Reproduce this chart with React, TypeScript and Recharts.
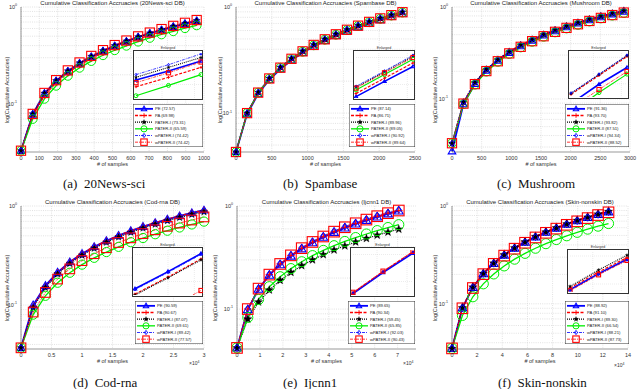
import React from 'react';
import { LineChart, Line, XAxis, YAxis, CartesianGrid, Legend } from 'recharts';

const SERIES_NAMES = ['PE', 'PA', 'PATER-I', 'PATER-II', 'wPATER-I', 'wPATER-II'];
const insetX = [0, 0.5, 1];

// (a) 20News-sci
const newsSamples = [0, 64, 128, 192, 256, 320, 384, 448, 512, 576, 640, 704, 768, 832, 896, 960];
const newsPE = [0.033, 0.078, 0.128, 0.172, 0.216, 0.262, 0.305, 0.35, 0.395, 0.44, 0.488, 0.533, 0.578, 0.625, 0.67, 0.718];
const newsPA = [0.033, 0.075, 0.122, 0.166, 0.209, 0.252, 0.295, 0.338, 0.381, 0.424, 0.468, 0.512, 0.556, 0.6, 0.645, 0.69];
const newsP1 = [0.033, 0.079, 0.129, 0.174, 0.219, 0.265, 0.309, 0.354, 0.399, 0.445, 0.492, 0.538, 0.584, 0.631, 0.677, 0.724];
const newsP2 = [0.033, 0.07, 0.113, 0.154, 0.195, 0.236, 0.277, 0.318, 0.358, 0.398, 0.439, 0.48, 0.521, 0.562, 0.604, 0.646];
const newsW1 = [0.033, 0.08, 0.131, 0.177, 0.223, 0.269, 0.314, 0.36, 0.406, 0.452, 0.499, 0.546, 0.593, 0.64, 0.688, 0.735];
const newsW2 = [0.033, 0.079, 0.13, 0.176, 0.222, 0.268, 0.313, 0.359, 0.405, 0.451, 0.498, 0.545, 0.592, 0.639, 0.687, 0.734];
const newsAcc = ['72.57', '69.98', '73.31', '65.59', '74.42', '74.42'];
const newsTicks = [0, 100, 200, 300, 400, 500, 600, 700, 800, 900, 1000];
const newsInPE = [0.4, 0.6, 0.82];
const newsInPA = [0.25, 0.46, 0.68];
const newsInP1 = [0.46, 0.68, 0.9];
const newsInP2 = [0.05, 0.28, 0.52];
const newsInW1 = [0.52, 0.74, 0.98];
const newsInW2 = [0.34, 0.56, 0.8];

// (b) Spambase
const spamSamples = [0, 155, 310, 465, 620, 775, 930, 1085, 1240, 1395, 1550, 1705, 1860, 2015, 2170, 2325];
const spamPE = [0.043, 0.098, 0.152, 0.206, 0.26, 0.315, 0.37, 0.425, 0.48, 0.535, 0.59, 0.645, 0.7, 0.755, 0.81, 0.866];
const spamPA = [0.043, 0.099, 0.153, 0.207, 0.261, 0.315, 0.369, 0.423, 0.477, 0.531, 0.586, 0.64, 0.695, 0.75, 0.805, 0.862];
const spamP1 = [0.043, 0.1, 0.157, 0.213, 0.27, 0.327, 0.384, 0.441, 0.498, 0.555, 0.612, 0.669, 0.727, 0.784, 0.841, 0.896];
const spamP2 = [0.043, 0.1, 0.156, 0.211, 0.267, 0.323, 0.379, 0.435, 0.492, 0.548, 0.605, 0.661, 0.718, 0.775, 0.831, 0.887];
const spamW1 = [0.043, 0.101, 0.158, 0.214, 0.272, 0.33, 0.388, 0.446, 0.504, 0.562, 0.62, 0.678, 0.736, 0.794, 0.852, 0.905];
const spamW2 = [0.043, 0.1, 0.156, 0.212, 0.268, 0.325, 0.382, 0.439, 0.496, 0.553, 0.61, 0.667, 0.724, 0.781, 0.838, 0.893];
const spamAcc = ['87.14', '86.71', '89.96', '89.05', '90.92', '89.64'];
const spamTicks = [0, 500, 1000, 1500, 2000, 2500];
const spamInPE = [0.03, 0.37, 0.7];
const spamInPA = [0.1, 0.44, 0.78];
const spamInP1 = [0.24, 0.58, 0.93];
const spamInP2 = [0.18, 0.52, 0.86];
const spamInW1 = [0.26, 0.6, 0.95];
const spamInW2 = [0.22, 0.56, 0.9];

// (c) Mushroom
const mushSamples = [0, 193, 386, 579, 772, 965, 1158, 1351, 1544, 1737, 1930, 2123, 2316, 2509, 2702, 2895];
const mushPE = [0.027, 0.088, 0.146, 0.204, 0.261, 0.318, 0.376, 0.433, 0.491, 0.548, 0.605, 0.663, 0.72, 0.777, 0.834, 0.892];
const mushPA = [0.033, 0.092, 0.151, 0.209, 0.268, 0.326, 0.385, 0.443, 0.502, 0.561, 0.619, 0.678, 0.736, 0.795, 0.853, 0.912];
const mushP1 = [0.033, 0.092, 0.151, 0.21, 0.268, 0.327, 0.386, 0.444, 0.503, 0.562, 0.62, 0.679, 0.738, 0.797, 0.855, 0.913];
const mushP2 = [0.033, 0.088, 0.143, 0.198, 0.253, 0.308, 0.363, 0.418, 0.474, 0.529, 0.584, 0.639, 0.695, 0.75, 0.805, 0.86];
const mushW1 = [0.033, 0.093, 0.152, 0.211, 0.27, 0.329, 0.388, 0.447, 0.506, 0.565, 0.624, 0.683, 0.742, 0.801, 0.86, 0.919];
const mushW2 = [0.033, 0.089, 0.145, 0.201, 0.257, 0.313, 0.369, 0.425, 0.481, 0.537, 0.593, 0.649, 0.705, 0.761, 0.817, 0.87];
const mushAcc = ['91.36', '93.70', '93.82', '87.51', '94.34', '88.52'];
const mushTicks = [0, 500, 1000, 1500, 2000, 2500, 3000];
const mushInPE = [-0.15, 0.29, 0.67];
const mushInPA = [0.06, 0.49, 0.92];
const mushInP1 = [0.08, 0.51, 0.94];
const mushInP2 = [-0.35, 0.1, 0.52];
const mushInW1 = [0.09, 0.52, 0.95];
const mushInW2 = [-0.25, 0.17, 0.58];

// (d) Cod-rna (x10^4)
const codSamples = [0, 0.2, 0.4, 0.6, 0.8, 1.0, 1.2, 1.4, 1.6, 1.8, 2.0, 2.2, 2.4, 2.6, 2.8, 3.0];
const codPE = [0.037, 0.1, 0.157, 0.214, 0.272, 0.33, 0.388, 0.446, 0.504, 0.561, 0.619, 0.677, 0.735, 0.793, 0.851, 0.906];
const codPA = [0.037, 0.098, 0.155, 0.213, 0.271, 0.329, 0.388, 0.446, 0.504, 0.562, 0.62, 0.678, 0.736, 0.794, 0.852, 0.907];
const codP1 = [0.037, 0.094, 0.15, 0.206, 0.262, 0.318, 0.374, 0.43, 0.486, 0.542, 0.598, 0.654, 0.71, 0.766, 0.822, 0.871];
const codP2 = [0.037, 0.08, 0.124, 0.168, 0.212, 0.256, 0.3, 0.343, 0.387, 0.431, 0.475, 0.519, 0.563, 0.607, 0.651, 0.696];
const codW1 = [0.037, 0.097, 0.153, 0.21, 0.267, 0.324, 0.382, 0.439, 0.496, 0.553, 0.61, 0.668, 0.725, 0.782, 0.839, 0.894];
const codW2 = [0.037, 0.085, 0.134, 0.183, 0.232, 0.281, 0.33, 0.379, 0.428, 0.477, 0.526, 0.575, 0.624, 0.673, 0.722, 0.776];
const codAcc = ['90.59', '90.67', '87.07', '69.61', '89.42', '77.57'];
const codTicks = [0, 0.5, 1, 1.5, 2, 2.5, 3];
const codInPE = [0.14, 0.52, 0.92];
const codInPA = [0.02, 0.4, 0.8];
const codInP1 = [0.0, 0.38, 0.78];
const codInP2 = [null, null, null];
const codInW1 = [0.12, 0.5, 0.9];
const codInW2 = [-0.7, -0.3, 0.1];

// (e) Ijcnn1 (x10^4)
const ijSamples = [0, 0.47, 0.94, 1.41, 1.88, 2.35, 2.82, 3.29, 3.76, 4.23, 4.7, 5.17, 5.64, 6.11, 6.58, 7.05];
const ijPE = [0.042, 0.099, 0.156, 0.213, 0.27, 0.327, 0.384, 0.441, 0.498, 0.555, 0.612, 0.669, 0.726, 0.783, 0.84, 0.897];
const ijPA = [0.042, 0.1, 0.158, 0.216, 0.274, 0.331, 0.389, 0.446, 0.504, 0.562, 0.619, 0.677, 0.734, 0.792, 0.85, 0.903];
const ijP1 = [0.042, 0.08, 0.117, 0.153, 0.19, 0.227, 0.264, 0.3, 0.337, 0.374, 0.41, 0.447, 0.484, 0.521, 0.558, 0.595];
const ijP2 = [0.042, 0.083, 0.124, 0.165, 0.206, 0.247, 0.288, 0.33, 0.371, 0.412, 0.453, 0.494, 0.535, 0.577, 0.618, 0.659];
const ijW1 = [0.042, 0.101, 0.16, 0.219, 0.278, 0.337, 0.396, 0.455, 0.514, 0.573, 0.632, 0.691, 0.75, 0.809, 0.865, 0.92];
const ijW2 = [0.042, 0.1, 0.158, 0.216, 0.274, 0.332, 0.39, 0.448, 0.506, 0.564, 0.622, 0.68, 0.738, 0.796, 0.852, 0.904];
const ijAcc = ['89.65', '90.34', '59.45', '65.85', '92.03', '90.43'];
const ijTicks = [0, 1, 2, 3, 4, 5, 6, 7];
const ijInPE = [0.03, 0.5, 0.93];
const ijInPA = [0.05, 0.52, 0.96];
const ijInP1 = [null, null, null];
const ijInP2 = [null, null, null];
const ijInW1 = [0.04, 0.51, 0.95];
const ijInW2 = [0.06, 0.53, 0.97];

// (f) Skin-nonskin (x10^4)
const skinSamples = [0, 0.83, 1.66, 2.49, 3.32, 4.15, 4.98, 5.81, 6.64, 7.47, 8.3, 9.13, 9.96, 10.79, 11.62, 12.45];
const skinPE = [0.035, 0.091, 0.147, 0.203, 0.259, 0.315, 0.371, 0.427, 0.483, 0.539, 0.595, 0.651, 0.707, 0.763, 0.819, 0.872];
const skinPA = [0.035, 0.092, 0.149, 0.206, 0.263, 0.32, 0.377, 0.434, 0.491, 0.548, 0.605, 0.662, 0.719, 0.776, 0.833, 0.889];
const skinP1 = [0.035, 0.091, 0.148, 0.204, 0.26, 0.317, 0.373, 0.429, 0.486, 0.542, 0.598, 0.655, 0.711, 0.767, 0.824, 0.878];
const skinP2 = [0.035, 0.076, 0.118, 0.16, 0.202, 0.244, 0.286, 0.328, 0.37, 0.412, 0.454, 0.496, 0.538, 0.58, 0.622, 0.662];
const skinW1 = [0.035, 0.09, 0.146, 0.202, 0.257, 0.313, 0.368, 0.424, 0.479, 0.535, 0.59, 0.646, 0.701, 0.757, 0.812, 0.866];
const skinW2 = [0.035, 0.09, 0.145, 0.201, 0.256, 0.311, 0.366, 0.421, 0.477, 0.532, 0.587, 0.642, 0.697, 0.752, 0.808, 0.862];
const skinAcc = ['88.92', '91.10', '89.30', '66.54', '88.21', '87.73'];
const skinTicks = [0, 2, 4, 6, 8, 10, 12, 14];
const skinInPE = [0.06, 0.46, 0.82];
const skinInPA = [0.1, 0.5, 0.86];
const skinInP1 = [0.14, 0.55, 0.92];
const skinInP2 = [null, null, null];
const skinInW1 = [0.04, 0.44, 0.8];
const skinInW2 = [0.03, 0.43, 0.79];

const KEYS = ['pe', 'pa', 'p1', 'p2', 'w1', 'w2'] as const;
type K = typeof KEYS[number];

const STY: Record<K, { color: string; w: number; dash?: string; mk: string; size: number }> = {
  pe: { color: '#0000ff', w: 1.8, mk: 'tri', size: 3.8 },
  pa: { color: '#ff0000', w: 1.3, dash: '3 1.5', mk: 'plus', size: 3.2 },
  p1: { color: '#000000', w: 1.2, dash: '1 1', mk: 'star', size: 3.8 },
  p2: { color: '#00ee00', w: 1.3, mk: 'circ', size: 4.4 },
  w1: { color: '#0000ff', w: 0.8, dash: '3 1 1 1', mk: 'dia', size: 3 },
  w2: { color: '#ff0000', w: 0.8, dash: '3 1 1 1', mk: 'sq', size: 4.6 },
};

function mark(kind: string, cx: number, cy: number, s: number, c: string) {
  switch (kind) {
    case 'tri':
      return <polygon points={`${cx},${cy - s} ${cx - s},${cy + s * 0.7} ${cx + s},${cy + s * 0.7}`} fill="none" stroke={c} strokeWidth={1.1} />;
    case 'plus':
      return <path d={`M${cx - s},${cy}H${cx + s}M${cx},${cy - s}V${cy + s}`} stroke={c} strokeWidth={1} fill="none" />;
    case 'star': {
      const pts: string[] = [];
      for (let i = 0; i < 10; i++) {
        const r = i % 2 === 0 ? s : s * 0.42;
        const a = -Math.PI / 2 + (i * Math.PI) / 5;
        pts.push(`${cx + r * Math.cos(a)},${cy + r * Math.sin(a)}`);
      }
      return <polygon points={pts.join(' ')} fill={c} stroke={c} strokeWidth={0.3} />;
    }
    case 'circ':
      return <circle cx={cx} cy={cy} r={s} fill="none" stroke={c} strokeWidth={1} />;
    case 'dia':
      return <polygon points={`${cx},${cy - s} ${cx + s * 0.75},${cy} ${cx},${cy + s} ${cx - s * 0.75},${cy}`} fill="none" stroke={c} strokeWidth={0.9} />;
    case 'sq':
    default:
      return <rect x={cx - s} y={cy - s} width={2 * s} height={2 * s} fill="none" stroke={c} strokeWidth={1.1} />;
  }
}

const dotFn = (k: K, scale: number) => (p: any) => {
  const { cx, cy, index, value } = p;
  const key = `${k}-${index}`;
  if (value == null || cx == null || cy == null || !isFinite(cx) || !isFinite(cy)) return <g key={key} />;
  return <g key={key}>{mark(STY[k].mk, cx, cy, STY[k].size * scale, STY[k].color)}</g>;
};

function rows(x: number[], s: (number | null)[][]) {
  return x.map((xv, i) => {
    const r: any = { x: xv };
    KEYS.forEach((k, j) => {
      r[k] = s[j][i];
    });
    return r;
  });
}

const YTick = (p: any) => {
  const v = p.payload.value;
  const e = Math.round(Math.log10(v));
  return (
    <text x={p.x} y={p.y} dy={2} textAnchor="end" fontSize={5.5} fill="#333">
      10<tspan dy={-2.6} fontSize={3.6}>{e}</tspan>
    </text>
  );
};

function LegendBox({ w, h, acc }: { w: number; h: number; acc: string[] }) {
  const rowH = (h - 3) / 6;
  return (
    <svg width={w} height={h} style={{ display: 'block' }}>
      <rect x={0.25} y={0.25} width={w - 0.5} height={h - 0.5} fill="#fff" stroke="#333" strokeWidth={0.5} />
      {KEYS.map((k, i) => {
        const y = 1.5 + rowH * (i + 0.5);
        const s = STY[k];
        return (
          <g key={k}>
            <line x1={2} x2={20} y1={y} y2={y} stroke={s.color} strokeWidth={s.w} strokeDasharray={s.dash} />
            {mark(s.mk, 11, y, s.size * 0.7, s.color)}
            <text x={22} y={y} dy={1.5} fontSize={4.2} fill="#222" fontFamily="'Liberation Sans', Arial, sans-serif">
              {`${SERIES_NAMES[i]} (${acc[i]})`}
            </text>
          </g>
        );
      })}
    </svg>
  );
}

interface Box { x: number; y: number; w: number; h: number }
interface PanelCfg {
  title: string;
  caption: string;
  x: number[];
  s: (number | null)[][];
  acc: string[];
  xDomain: [number, number];
  xTicks: number[];
  yMin: number;
  plot: { x0: number; x1: number; y0: number; y1: number };
  inset: Box;
  insetS: (number | null)[][];
  legend: Box;
  mscale: number;
  ylabelX: number;
  captionX: number;
  captionY: number;
  exp?: { x: number; y: number };
}

const panels: PanelCfg[] = [
  {
    title: 'Cumulative Classification Accruacies (20News-sci DB)',
    caption: '(a)  20News-sci',
    x: newsSamples,
    s: [newsPE, newsPA, newsP1, newsP2, newsW1, newsW2],
    acc: newsAcc,
    xDomain: [0, 1000],
    xTicks: newsTicks,
    yMin: 0.032,
    plot: { x0: 21, x1: 204, y0: 7, y1: 152 },
    inset: { x: 133, y: 50, w: 70, h: 50 },
    insetS: [newsInPE, newsInPA, newsInP1, newsInP2, newsInW1, newsInW2],
    legend: { x: 133, y: 104, w: 70, h: 43 },
    mscale: 1,
    ylabelX: 7,
    captionX: 63,
    captionY: 184,
  },
  {
    title: 'Cumulative Classification Accruacies (Spambase DB)',
    caption: '(b)  Spambase',
    x: spamSamples,
    s: [spamPE, spamPA, spamP1, spamP2, spamW1, spamW2],
    acc: spamAcc,
    xDomain: [0, 2500],
    xTicks: spamTicks,
    yMin: 0.043,
    plot: { x0: 236, x1: 415, y0: 7, y1: 152 },
    inset: { x: 353, y: 50, w: 62, h: 50 },
    insetS: [spamInPE, spamInPA, spamInP1, spamInP2, spamInW1, spamInW2],
    legend: { x: 349, y: 104, w: 66, h: 43 },
    mscale: 1,
    ylabelX: 220,
    captionX: 283,
    captionY: 184,
  },
  {
    title: 'Cumulative Classification Accruacies (Mushroom DB)',
    caption: '(c)  Mushroom',
    x: mushSamples,
    s: [mushPE, mushPA, mushP1, mushP2, mushW1, mushW2],
    acc: mushAcc,
    xDomain: [0, 3000],
    xTicks: mushTicks,
    yMin: 0.0265,
    plot: { x0: 452, x1: 630, y0: 7, y1: 152 },
    inset: { x: 568, y: 50, w: 61, h: 49 },
    insetS: [mushInPE, mushInPA, mushInP1, mushInP2, mushInW1, mushInW2],
    legend: { x: 565, y: 104, w: 64, h: 43 },
    mscale: 1,
    ylabelX: 435,
    captionX: 497,
    captionY: 184,
  },
  {
    title: 'Cumulative Classification Accruacies (Cod-rna DB)',
    caption: '(d)  Cod-rna',
    x: codSamples,
    s: [codPE, codPA, codP1, codP2, codW1, codW2],
    acc: codAcc,
    xDomain: [0, 3],
    xTicks: codTicks,
    yMin: 0.036,
    plot: { x0: 21, x1: 204, y0: 206, y1: 349 },
    inset: { x: 132, y: 247, w: 71, h: 50 },
    insetS: [codInPE, codInPA, codInP1, codInP2, codInW1, codInW2],
    legend: { x: 135, y: 301, w: 68, h: 43 },
    mscale: 1.05,
    ylabelX: 7,
    captionX: 73,
    captionY: 383,
    exp: { x: 197, y: 364 },
  },
  {
    title: 'Cumulative Classification Accruacies (Ijcnn1 DB)',
    caption: '(e)  Ijcnn1',
    x: ijSamples,
    s: [ijPE, ijPA, ijP1, ijP2, ijW1, ijW2],
    acc: ijAcc,
    xDomain: [0, 7.8],
    xTicks: ijTicks,
    yMin: 0.041,
    plot: { x0: 237, x1: 416, y0: 206, y1: 349 },
    inset: { x: 350, y: 247, w: 65, h: 50 },
    insetS: [ijInPE, ijInPA, ijInP1, ijInP2, ijInW1, ijInW2],
    legend: { x: 348, y: 301, w: 67, h: 43 },
    mscale: 1.15,
    ylabelX: 215,
    captionX: 283,
    captionY: 383,
    exp: { x: 411, y: 364 },
  },
  {
    title: 'Cumulative Classification Accruacies (Skin-nonskin DB)',
    caption: '(f)  Skin-nonskin',
    x: skinSamples,
    s: [skinPE, skinPA, skinP1, skinP2, skinW1, skinW2],
    acc: skinAcc,
    xDomain: [0, 14],
    xTicks: skinTicks,
    yMin: 0.0345,
    plot: { x0: 452, x1: 628, y0: 206, y1: 349 },
    inset: { x: 567, y: 249, w: 62, h: 45 },
    insetS: [skinInPE, skinInPA, skinInP1, skinInP2, skinInW1, skinInW2],
    legend: { x: 565, y: 301, w: 64, h: 43 },
    mscale: 1.15,
    ylabelX: 435,
    captionX: 498,
    captionY: 383,
    exp: { x: 622, y: 366 },
  },
];

const LOG_GRID = [0.02, 0.03, 0.04, 0.05, 0.06, 0.07, 0.08, 0.09, 0.1, 0.2, 0.3, 0.4, 0.5, 0.6, 0.7, 0.8, 0.9, 1];
const SANS = "'Liberation Sans', Arial, sans-serif";
const RIGHT_PAD = 9;

function Panel({ cfg }: { cfg: PanelCfg }) {
  const { plot } = cfg;
  const left = plot.x0 - 22;
  const top = plot.y0 - 7;
  const W = plot.x1 - plot.x0 + 22 + RIGHT_PAD;
  const H = plot.y1 - plot.y0 + 27;
  const data = rows(cfg.x, cfg.s);
  const gridY = LOG_GRID.filter((v) => v >= cfg.yMin);
  const axisStyle = { stroke: '#333', strokeWidth: 0.5 };
  const midX = (plot.x0 + plot.x1) / 2;
  const midY = (plot.y0 + plot.y1) / 2 + 10;
  const insetData = rows(insetX, cfg.insetS);
  const I = cfg.inset;
  return (
    <>
      <div
        style={{ position: 'absolute', left: midX - 110, width: 220, top: plot.y0 - 7, height: 7, lineHeight: '7px', fontSize: 6, textAlign: 'center', color: '#222', whiteSpace: 'nowrap' }}
      >
        {cfg.title}
      </div>
      <div style={{ position: 'absolute', left, top }}>
        <LineChart width={W} height={H} data={data} margin={{ top: 7, right: RIGHT_PAD, bottom: 0, left: 0 }}>
          <CartesianGrid stroke="#c4c4c4" strokeDasharray="1 1.2" strokeWidth={0.5} horizontalValues={gridY} verticalValues={cfg.xTicks} />
          <XAxis
            dataKey="x"
            type="number"
            domain={cfg.xDomain}
            ticks={cfg.xTicks}
            interval={0}
            tick={{ fontSize: 5.5, fill: '#333' }}
            tickLine={false}
            tickSize={3}
            tickMargin={1}
            height={20}
            axisLine={axisStyle}
          />
          <XAxis xAxisId="top" orientation="top" dataKey="x" type="number" domain={cfg.xDomain} tick={false} tickLine={false} height={0} axisLine={axisStyle} />
          <YAxis
            scale="log"
            type="number"
            domain={[cfg.yMin, 1]}
            ticks={[0.1, 1]}
            interval={0}
            tick={YTick}
            tickLine={false}
            tickSize={2}
            width={22}
            axisLine={axisStyle}
          />
          <YAxis yAxisId="right" orientation="right" scale="log" type="number" domain={[cfg.yMin, 1]} tick={false} tickLine={false} width={0} axisLine={axisStyle} />
          {KEYS.map((k) => (
            <Line
              key={k}
              dataKey={k}
              stroke={STY[k].color}
              strokeWidth={STY[k].w}
              strokeDasharray={STY[k].dash}
              dot={dotFn(k, cfg.mscale)}
              activeDot={false}
              isAnimationActive={false}
              type="linear"
            />
          ))}
          <Legend
            layout="vertical"
            align="center"
            verticalAlign="middle"
            wrapperStyle={{ left: cfg.legend.x - left, top: cfg.legend.y - top, width: cfg.legend.w, height: cfg.legend.h, margin: 0, padding: 0 }}
            content={() => <LegendBox w={cfg.legend.w} h={cfg.legend.h} acc={cfg.acc} />}
          />
        </LineChart>
      </div>
      <div
        style={{ position: 'absolute', left: I.x + I.w / 2 - 20, width: 40, top: I.y - 4.5, fontSize: 3.6, lineHeight: '4px', textAlign: 'center', color: '#333' }}
      >
        Enlarged
      </div>
      <div
        style={{ position: 'absolute', left: I.x, top: I.y, width: I.w, height: I.h, background: '#fff', border: '0.5px solid #333', boxSizing: 'border-box' }}
      >
        <LineChart width={I.w - 1} height={I.h - 1} data={insetData} margin={{ top: 2, right: 2, bottom: 2, left: 2 }}>
          <CartesianGrid
            stroke="#cfcfcf"
            strokeDasharray="1 1"
            strokeWidth={0.4}
            horizontalValues={[0.1, 0.2, 0.3, 0.4, 0.5, 0.6, 0.7, 0.8, 0.9]}
            verticalValues={[0.1, 0.2, 0.3, 0.4, 0.5, 0.6, 0.7, 0.8, 0.9]}
          />
          <XAxis hide dataKey="x" type="number" domain={[0, 1]} />
          <YAxis hide type="number" domain={[0, 1]} allowDataOverflow />
          {KEYS.map((k) => (
            <Line
              key={k}
              dataKey={k}
              stroke={STY[k].color}
              strokeWidth={STY[k].w * 0.9}
              strokeDasharray={STY[k].dash}
              dot={dotFn(k, 0.45)}
              activeDot={false}
              isAnimationActive={false}
              type="linear"
            />
          ))}
        </LineChart>
      </div>
      <div
        style={{ position: 'absolute', left: cfg.ylabelX - 60, top: midY - 4, width: 120, height: 8, lineHeight: '8px', fontSize: 5.5, textAlign: 'center', color: '#333', transform: 'rotate(-90deg)', whiteSpace: 'nowrap' }}
      >
        log(Cumulative Accuracies)
      </div>
      <div
        style={{ position: 'absolute', left: midX - 40, width: 80, top: plot.y1 + 9, height: 7, lineHeight: '7px', fontSize: 5.5, textAlign: 'center', color: '#333' }}
      >
        # of samples
      </div>
      {cfg.exp && (
        <div style={{ position: 'absolute', left: cfg.exp.x - 8, top: cfg.exp.y - 4, fontSize: 5, lineHeight: '7px', color: '#333', whiteSpace: 'nowrap' }}>
          ×10<sup style={{ fontSize: 3.5, verticalAlign: 'top', lineHeight: '4px' }}>4</sup>
        </div>
      )}
      <div
        style={{ position: 'absolute', left: cfg.captionX, top: cfg.captionY - 8, height: 16, lineHeight: '16px', fontSize: 13, fontFamily: "'Liberation Serif', 'Times New Roman', serif", color: '#111', whiteSpace: 'pre' }}
      >
        {cfg.caption}
      </div>
    </>
  );
}

export default function App() {
  return (
    <div
      style={{ position: 'absolute', left: 0, top: 0, width: 640, height: 389, background: '#fff', overflow: 'hidden', fontFamily: SANS }}
    >
      {panels.map((p, i) => (
        <Panel key={i} cfg={p} />
      ))}
    </div>
  );
}
